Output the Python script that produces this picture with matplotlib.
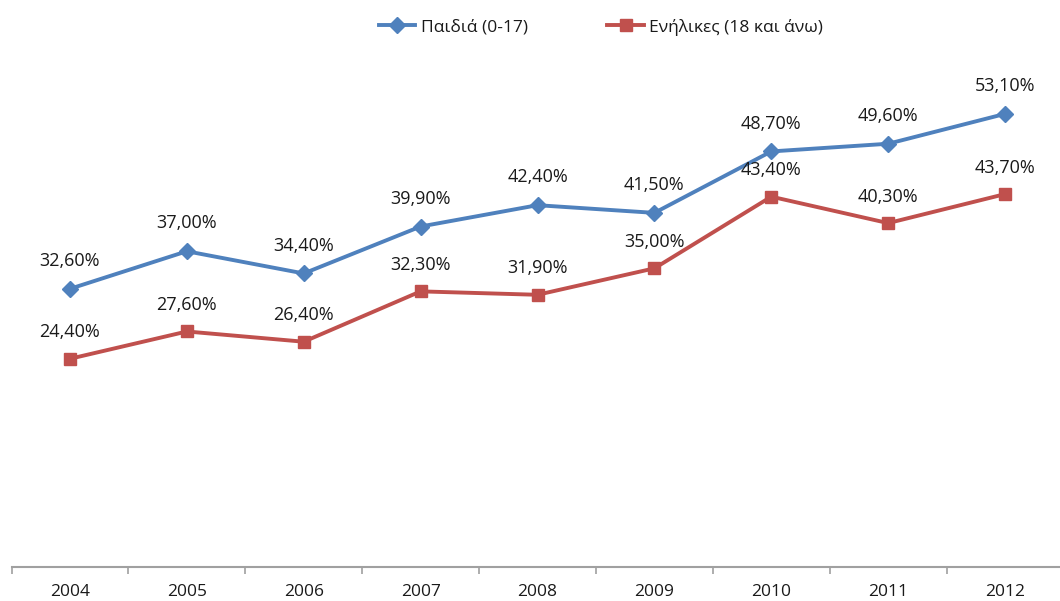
import matplotlib.pyplot as plt

years = ['2004', '2005', '2006', '2007', '2008', '2009', '2010', '2011', '2012']
children = [32.6, 37.0, 34.4, 39.9, 42.4, 41.5, 48.7, 49.6, 53.1]
adults = [24.4, 27.6, 26.4, 32.3, 31.9, 35.0, 43.4, 40.3, 43.7]

blue = '#4F81BD'
red = '#C0504D'

plt.rcParams['font.family'] = ['Open Sans', 'DejaVu Sans']

fig = plt.figure(figsize=(10.6, 6.01), dpi=100)
ax = fig.add_axes([11.5 / 1060, 1 - 567 / 601, 1052 / 1060, 512 / 601])

x = list(range(len(years)))
ax.plot(x, children, color=blue, lw=2.8, marker='D', ms=8, label='Παιδιά (0-17)')
ax.plot(x, adults, color=red, lw=2.8, marker='s', ms=9, label='Ενήλικες (18 και άνω)')

for i in x:
    ax.annotate(f'{children[i]:.2f}%'.replace('.', ','), (i, children[i]), xytext=(0, 20),
                textcoords='offset points', ha='center', va='center', fontsize=13, color='#1a1a1a')
    ax.annotate(f'{adults[i]:.2f}%'.replace('.', ','), (i, adults[i]), xytext=(0, 19),
                textcoords='offset points', ha='center', va='center', fontsize=13, color='#1a1a1a')

ax.set_xlim(-0.5, len(years) - 0.5)
ax.set_ylim(0, 60)
ax.set_yticks([])
ax.set_xticks(x)
ax.set_xticklabels(years, fontsize=12.5, color='#1a1a1a')
ax.tick_params(axis='x', length=0, pad=12)
# category boundary ticks
ax.set_xticks([i - 0.5 for i in range(len(years) + 1)], minor=True)
ax.tick_params(axis='x', which='minor', length=5, color='#a0a0a0', width=1.2)

for s in ['top', 'right', 'left']:
    ax.spines[s].set_visible(False)
ax.spines['bottom'].set_color('#a0a0a0')
ax.spines['bottom'].set_linewidth(1.5)

fig.legend(loc='center', bbox_to_anchor=(601 / 1060, 1 - 27 / 601), ncol=2, frameon=False,
           fontsize=12.5, handlelength=2.1, columnspacing=4.6, handletextpad=0.3,
           labelcolor='#1a1a1a')

fig.savefig('out.png', dpi=100)
